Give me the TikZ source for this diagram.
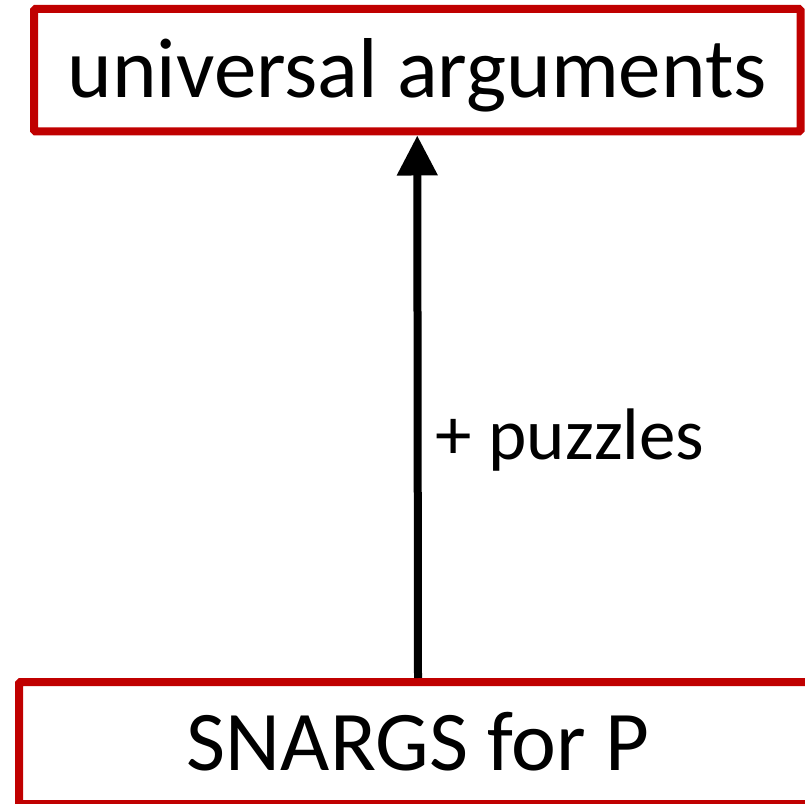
\documentclass[tikz,border=0pt]{standalone}
\usepackage{fontspec}
\setmainfont{Carlito}
\usetikzlibrary{arrows.meta}
\definecolor{boxred}{HTML}{C00000}
\tikzset{
  redbox/.style={draw=boxred,line width=8pt,rounded corners=1.5pt,inner sep=0pt,
    font=\fontsize{85}{100}\selectfont,text height=55pt,text depth=0pt},
  lbl/.style={font=\fontsize{73}{84}\selectfont,inner sep=0pt}
}
\begin{document}
\begin{tikzpicture}[x=1pt,y=1pt,>={Triangle[length=40pt,width=39pt]}]
\useasboundingbox (0,0) rectangle (805,803);
\node[redbox,minimum width=766.5pt,minimum height=122.5pt] (univ) at (417.25,732.75) {universal arguments};
\node[redbox,minimum width=798pt,minimum height=122pt] (snarg) at (418,60) {SNARGS for P};
\draw[->,line width=8pt] (snarg.north) -- (univ.south)
  node[lbl,pos=0.403,anchor=base west,xshift=14pt] (puz) {+ puzzles};
\end{tikzpicture}
\end{document}
